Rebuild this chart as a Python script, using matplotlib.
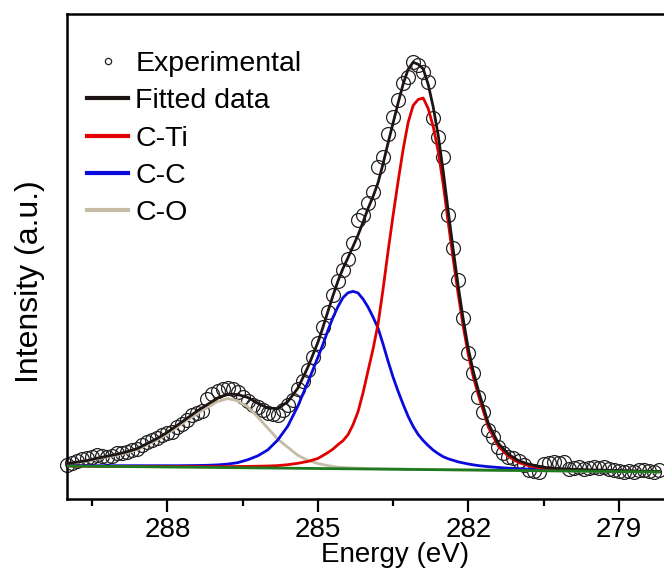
import numpy as np
import matplotlib
matplotlib.use("Agg")
import matplotlib.pyplot as plt

plt.rcParams['font.family'] = ['Liberation Sans', 'DejaVu Sans']

# ---- Data (binding energy in eV, intensity in a.u.) ----
# Experimental points, 0.1 eV steps starting at 290.0 eV going down
exp_start = 290.0
exp_step = 0.1
exp_intensity = [
    2, 4, 6, 8, 9, 10, 12, 11, 10, 11,
    14, 14, 15, 17, 18, 22, 25, 27, 29, 32,
    34, 35, 40, 43, 47, 52, 54, 56, 68, 73,
    76, 78, 79, 78, 75, 70, 66, 62, 60, 57,
    54, 53, 52, 57, 62, 67, 78, 86, 97, 110,
    124, 140, 155, 172, 186, 197, 208, 224, 247, 252,
    264, 275, 300, 310, 333, 350, 367, 384, 390, 405,
    402, 395, 385, 349, 330, 310, 252, 219, 187, 149,
    114, 94, 70, 55, 37, 30, 20, 14, 10, 9,
    6, 2, -3, -4, -5, 3, 4, 5, 4, 5,
    -2, -1, 0, -2, -1, 0, -1, 0, -2, -3,
    -4, -5, -4, -5, -3, -3, -4, -5, -3,
]

# Fit grid: 290.0-285.2 (0.2 eV), 285.0-281.8 (0.1 eV), 281.6-278.2 (0.2 eV)
fit_segments = [(290.0, 0.2, 25), (285.0, 0.1, 33), (281.6, 0.2, 18)]

background = [
    # 290.0 .. 285.2
    1.0, 0.9, 0.8, 0.7, 0.6, 0.5, 0.4, 0.3, 0.2, 0.1,
    0.0, -0.1, -0.2, -0.3, -0.4, -0.5, -0.6, -0.7, -0.8, -0.9,
    -1.0, -1.1, -1.2, -1.3, -1.4,
    # 285.0 .. 281.8
    -1.5, -1.55, -1.6, -1.65, -1.7, -1.75, -1.8, -1.85, -1.9, -1.95,
    -2.0, -2.05, -2.1, -2.15, -2.2, -2.25, -2.3, -2.35, -2.4, -2.45,
    -2.5, -2.55, -2.6, -2.65, -2.7, -2.75, -2.8, -2.85, -2.9, -2.95,
    -3.0, -3.05, -3.1,
    # 281.6 .. 278.2
    -3.2, -3.3, -3.4, -3.5, -3.6, -3.7, -3.8, -3.9, -4.0, -4.1,
    -4.2, -4.3, -4.4, -4.5, -4.6, -4.7, -4.8, -4.9,
]
c_ti = [
    0, 0, 0, 0, 0, 0, 0, 0.1, 0.2, 0.3,
    0.4, 0.5, 0.6, 0.7, 0.8, 0.9, 1.0, 1.2, 1.4, 1.7,
    2.0, 2.5, 3.5, 5, 7,
    10, 13, 16, 19.5, 24, 28, 34, 44, 57, 76,
    98, 120, 145, 180, 218, 254, 288, 320, 347, 364,
    370, 371.5, 361, 343, 318, 285, 247, 210, 175, 143,
    115, 93, 75,
    43, 24, 14, 8, 5, 3, 2, 1.5, 1.2, 1.0,
    0.8, 0.7, 0.6, 0.5, 0.4, 0.3, 0.3, 0.2,
]
c_c = [
    0.5, 0.5, 0.6, 0.6, 0.7, 0.8, 0.9, 1.0, 1.1, 1.2,
    1.3, 1.4, 1.6, 1.8, 2.1, 2.6, 3.5, 5, 8, 12,
    18, 28, 42, 62, 86,
    111, 124, 138, 151, 162, 171, 176, 177.5, 176, 170,
    162, 152, 141, 125, 108, 92, 78, 65, 53, 43,
    35, 29, 24, 19.5, 16, 13, 11, 9.5, 8, 7,
    6, 5.2, 4.5,
    3.5, 2.8, 2.2, 1.8, 1.5, 1.2, 1.0, 0.8, 0.7, 0.6,
    0.5, 0.5, 0.4, 0.4, 0.3, 0.3, 0.3, 0.2,
]
c_o = [
    2, 3.5, 5, 7.5, 9.5, 11.5, 14, 17, 22, 27,
    33, 40, 47, 54, 60, 66, 69, 67, 61, 51,
    40, 29, 21, 13, 8,
    5, 4, 3, 2.2, 1.5, 1.2, 1.0, 0.8, 0.7, 0.6,
    0.5, 0.45, 0.4, 0.35, 0.3, 0.3, 0.3, 0.25, 0.2, 0.2,
    0.2, 0.15, 0.1, 0.1, 0.1, 0.1, 0.1, 0.1, 0.1, 0.1,
    0.1, 0.1, 0.1,
    0, 0, 0, 0, 0, 0, 0, 0, 0, 0,
    0, 0, 0, 0, 0, 0, 0, 0,
]

labels = ["Experimental", "Fitted data", "C-Ti", "C-C", "C-O"]
x_ticks = [288, 285, 282, 279]
x_minor = [289.5, 286.5, 283.5, 280.5]

# ---- Derived arrays ----
exp_E = np.round(exp_start - exp_step * np.arange(len(exp_intensity)), 2)
fit_E = np.concatenate([np.round(s - st * np.arange(n), 2) for s, st, n in fit_segments])
bg = np.array(background)
ti = bg + np.array(c_ti)
cc = bg + np.array(c_c)
co = bg + np.array(c_o)
fitted = bg + np.array(c_ti) + np.array(c_c) + np.array(c_o)

# ---- Figure ----
fig = plt.figure(figsize=(6.64, 5.78), dpi=100)
ax = fig.add_axes([67/664, 1 - 499/578, 1 - 67/664, (499 - 14)/578])

ax.plot(exp_E, exp_intensity, linestyle='none', marker='o', markersize=10,
        markerfacecolor='none', markeredgecolor='#222222', markeredgewidth=0.9,
        label=labels[0], zorder=2, clip_on=False)
ax.plot(fit_E, co, color='#c6bca6', lw=2.0, label=labels[4], zorder=3)
ax.plot(fit_E, cc, color='#0a0adc', lw=2.0, label=labels[3], zorder=3)
ax.plot(fit_E, ti, color='#e00000', lw=2.0, label=labels[2], zorder=3)
ax.plot(fit_E, fitted, color='#1e1414', lw=2.0, label=labels[1], zorder=4)
ax.plot(fit_E, bg, color='#1e7a1e', lw=2.0, zorder=5)

ax.set_xlim(290, 278.1)
ax.set_ylim(-32, 453)
ax.set_xticks(x_ticks)
ax.set_xticks(x_minor, minor=True)
ax.set_yticks([])
ax.tick_params(axis='x', which='major', direction='out', length=9, width=1.6,
               labelsize=20, pad=4)
ax.tick_params(axis='x', which='minor', direction='out', length=5, width=1.6)
for s in ['left', 'top', 'bottom']:
    ax.spines[s].set_linewidth(1.8)
ax.spines['right'].set_visible(False)

ax.set_xlabel("Energy (eV)", fontsize=20)
ax.xaxis.set_label_coords(0.549, -0.088)
ax.set_ylabel("Intensity (a.u.)", fontsize=23)
ax.yaxis.set_label_coords(-0.037, 0.449)

handles, lbls = ax.get_legend_handles_labels()
hmap = dict(zip(lbls, handles))
leg = ax.legend([hmap[l] for l in labels], labels, loc='upper left',
                bbox_to_anchor=(0.0, 0.965), frameon=False, fontsize=20.5,
                handlelength=1.45, handletextpad=0.25, labelspacing=0.4,
                markerscale=0.45, borderaxespad=0.3)
for line in leg.get_lines():
    if line.get_marker() in (None, 'None', '', 'none'):
        line.set_linewidth(3.0)

fig.savefig("out.png", dpi=100)
